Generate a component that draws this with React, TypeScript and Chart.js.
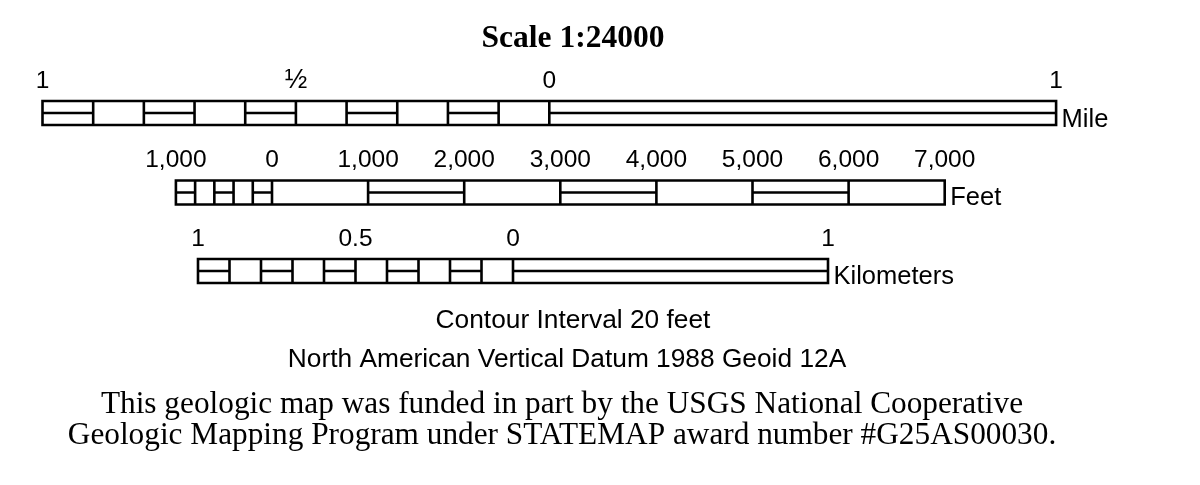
import React, { useEffect, useRef } from 'react';
import { Chart, registerables } from 'chart.js';

Chart.register(...registerables);

const W = 1200;
const H = 485;

// ---- Data ----
const mileBounds = [-1, -0.9, -0.8, -0.7, -0.6, -0.5, -0.4, -0.3, -0.2, -0.1, 0, 1];
const mileBanded = [true, false, true, false, true, false, true, false, true, false, true];
const mileTicks = [-1, -0.5, 0, 1];
const mileTickLabels = ['1', '½', '0', '1'];

const feetBounds = [-1000, -800, -600, -400, -200, 0, 1000, 2000, 3000, 4000, 5000, 6000, 7000];
const feetBanded = [true, false, true, false, true, false, true, false, true, false, true, false];
const feetTicks = [-1000, 0, 1000, 2000, 3000, 4000, 5000, 6000, 7000];
const feetTickLabels = ['1,000', '0', '1,000', '2,000', '3,000', '4,000', '5,000', '6,000', '7,000'];

const kmBounds = [-1, -0.9, -0.8, -0.7, -0.6, -0.5, -0.4, -0.3, -0.2, -0.1, 0, 1];
const kmBanded = [true, false, true, false, true, false, true, false, true, false, true];
const kmTicks = [-1, -0.5, 0, 1];
const kmTickLabels = ['1', '0.5', '0', '1'];

const titleText = 'Scale 1:24000';
const noteLines = ['Contour Interval 20 feet', 'North American Vertical Datum 1988 Geoid 12A'];
const creditLines = [
  'This geologic map was funded in part by the USGS National Cooperative',
  'Geologic Mapping Program under STATEMAP award number #G25AS00030.',
];

// ---- Layout (pixel placement only) ----
const SANS = '"Liberation Sans", Arial, sans-serif';
const SERIF = '"Liberation Serif", "Times New Roman", serif';
const LINE_W = 2.6;

const BARS = [
  {
    id: 'xMile', unit: 'Mile', bounds: mileBounds, banded: mileBanded,
    ticks: mileTicks, labels: mileTickLabels,
    zeroPx: 549.3, pxPerUnit: 506.8, top: 101, bottom: 125, labelY: 88, unitY: 126.5,
  },
  {
    id: 'xFeet', unit: 'Feet', bounds: feetBounds, banded: feetBanded,
    ticks: feetTicks, labels: feetTickLabels,
    zeroPx: 272, pxPerUnit: 0.0961, top: 180.5, bottom: 204.5, labelY: 167, unitY: 205,
  },
  {
    id: 'xKm', unit: 'Kilometers', bounds: kmBounds, banded: kmBanded,
    ticks: kmTicks, labels: kmTickLabels,
    zeroPx: 513, pxPerUnit: 315, top: 259, bottom: 283, labelY: 246, unitY: 284,
  },
];

const TEXT_LAYOUT = {
  titleX: 573, titleY: 47,
  noteX: [573, 567], noteY: [328, 367],
  creditX: 562, creditY: [413, 444],
};

function buildDatasets() {
  const ds: any[] = [];
  BARS.forEach((bar) => {
    const rect: any[] = [];
    const mids: any[] = [];
    const mid = (bar.top + bar.bottom) / 2;
    for (let i = 0; i < bar.bounds.length - 1; i++) {
      const a = bar.bounds[i];
      const b = bar.bounds[i + 1];
      rect.push({ x: a, y: bar.top }, { x: b, y: bar.top }, { x: b, y: bar.bottom }, { x: a, y: bar.bottom }, { x: a, y: bar.top }, { x: a, y: null });
      if (bar.banded[i]) {
        mids.push({ x: a, y: mid }, { x: b, y: mid }, { x: b, y: null });
      }
    }
    const common = {
      xAxisID: bar.id,
      yAxisID: 'y',
      showLine: true,
      spanGaps: false,
      pointRadius: 0,
      pointHoverRadius: 0,
      borderColor: '#000',
      backgroundColor: '#000',
      borderWidth: LINE_W,
      tension: 0,
      fill: false,
    };
    ds.push({ ...common, label: bar.unit + ' frame', data: rect, borderJoinStyle: 'miter', borderCapStyle: 'square' });
    ds.push({ ...common, label: bar.unit + ' bands', data: mids, borderCapStyle: 'butt' });
  });
  return ds;
}

const textPlugin = {
  id: 'scaleText',
  afterDraw(chart: any) {
    const ctx = chart.ctx;
    const y = chart.scales.y;
    ctx.save();
    ctx.fillStyle = '#000';
    ctx.textBaseline = 'alphabetic';

    ctx.textAlign = 'center';
    ctx.font = `bold 31.5px ${SERIF}`;
    ctx.fillText(titleText, TEXT_LAYOUT.titleX, y.getPixelForValue(TEXT_LAYOUT.titleY));

    BARS.forEach((bar) => {
      const sc = chart.scales[bar.id];
      ctx.textAlign = 'center';
      bar.ticks.forEach((t, i) => {
        const lbl = bar.labels[i];
        ctx.font = lbl === '½' ? `27px ${SANS}` : `24.5px ${SANS}`;
        ctx.fillText(lbl, sc.getPixelForValue(t), y.getPixelForValue(bar.labelY));
      });
      ctx.font = `25.5px ${SANS}`;
      ctx.textAlign = 'left';
      const endPx = sc.getPixelForValue(bar.bounds[bar.bounds.length - 1]);
      ctx.fillText(bar.unit, endPx + 5.5, y.getPixelForValue(bar.unitY));
    });

    ctx.textAlign = 'center';
    ctx.font = `26.3px ${SANS}`;
    noteLines.forEach((s, i) => ctx.fillText(s, TEXT_LAYOUT.noteX[i], y.getPixelForValue(TEXT_LAYOUT.noteY[i])));
    ctx.font = `31.3px ${SERIF}`;
    creditLines.forEach((s, i) => ctx.fillText(s, TEXT_LAYOUT.creditX, y.getPixelForValue(TEXT_LAYOUT.creditY[i])));
    ctx.restore();
  },
};

export default function App() {
  const ref = useRef<HTMLCanvasElement | null>(null);
  useEffect(() => {
    if (!ref.current) return;
    const scales: any = {
      y: { type: 'linear', display: false, min: 0, max: H, reverse: true },
    };
    BARS.forEach((bar) => {
      scales[bar.id] = {
        type: 'linear',
        display: false,
        axis: 'x',
        position: 'bottom',
        min: -bar.zeroPx / bar.pxPerUnit,
        max: (W - bar.zeroPx) / bar.pxPerUnit,
      };
    });
    const chart = new Chart(ref.current, {
      type: 'scatter',
      data: { datasets: buildDatasets() },
      options: {
        responsive: false,
        animation: false,
        layout: { padding: 0 },
        events: [],
        scales,
        plugins: { legend: { display: false }, tooltip: { enabled: false }, title: { display: false } },
      },
      plugins: [textPlugin],
    } as any);
    return () => chart.destroy();
  }, []);
  return (
    <div style={{ position: 'absolute', left: 0, top: 0, width: W, height: H, background: '#fff' }}>
      <canvas ref={ref} width={W} height={H} style={{ display: 'block' }} />
    </div>
  );
}
